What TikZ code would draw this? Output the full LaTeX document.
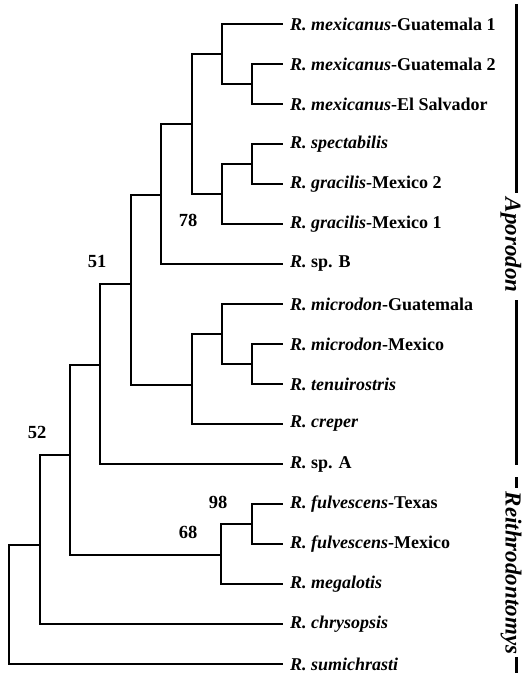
\documentclass[tikz,border=0pt]{standalone}
\usepackage{fontspec}
\setmainfont{Liberation Serif}
\usetikzlibrary{positioning}
\tikzstyle{taxon}=[
	anchor=west,
	inner xsep=8pt,
	inner ysep=2pt,
	font=\fontsize{18}{21}\selectfont\bfseries
]
\tikzstyle{branch}=[
	line width=1.25pt,
	line cap=rect
]
\tikzstyle{support}=[
	font=\fontsize{18.5}{21}\selectfont\bfseries
]
\tikzstyle{clade}=[
	rotate=-90,
	inner xsep=3pt,
	inner ysep=0pt,
	font=\fontsize{23}{26}\selectfont\bfseries\itshape
]
\tikzstyle{cladebar}=[
	line width=3pt
]
\newcommand{\species}[1]{\textit{R. #1}}

\begin{document}
\begin{tikzpicture}[x=1pt,y=-1pt]
\useasboundingbox (0,0) rectangle (524,675);
% leaves
\node [taxon] (mexGua1) at (282,24) {\species{mexicanus}-Guatemala 1};
\node [taxon] (mexGua2) at (282,64) {\species{mexicanus}-Guatemala 2};
\node [taxon] (mexSal) at (282,104) {\species{mexicanus}-El Salvador};
\node [taxon] (spect) at (282,144) {\species{spectabilis}};
\node [taxon] (graMex2) at (282,184) {\species{gracilis}-Mexico 2};
\node [taxon] (graMex1) at (282,224) {\species{gracilis}-Mexico 1};
\node [taxon] (spB) at (282,264) {\textit{R.} sp. B};
\node [taxon] (micGua) at (282,304) {\species{microdon}-Guatemala};
\node [taxon] (micMex) at (282,344) {\species{microdon}-Mexico};
\node [taxon] (tenui) at (282,384) {\species{tenuirostris}};
\node [taxon] (creper) at (282,424) {\species{creper}};
\node [taxon] (spA) at (282,464) {\textit{R.} sp. A};
\node [taxon] (fulTex) at (282,504) {\species{fulvescens}-Texas};
\node [taxon] (fulMex) at (282,544) {\species{fulvescens}-Mexico};
\node [taxon] (megal) at (282,584) {\species{megalotis}};
\node [taxon] (chrys) at (282,624) {\species{chrysopsis}};
\node [taxon] (sumi) at (282,664) {\species{sumichrasti}};
% internal nodes
\coordinate (mexA) at (252,84);
\coordinate (mexB) at (222,54);
\coordinate (graA) at (252,164);
\coordinate (graB) at (222,194);
\coordinate (mexGra) at (192,124);
\coordinate (withB) at (161,195);
\coordinate (micA) at (252,364);
\coordinate (micB) at (222,334);
\coordinate (micC) at (192,385);
\coordinate (apoA) at (131,284);
\coordinate (apoB) at (100,365);
\coordinate (fulA) at (252,524);
\coordinate (fulB) at (221,555);
\coordinate (reiA) at (70,455);
\coordinate (reiB) at (40,545);
\coordinate (root) at (9,604);
% branches
\draw [branch] (mexA) |- (mexGua2.west);
\draw [branch] (mexA) |- (mexSal.west);
\draw [branch] (mexB) |- (mexGua1.west);
\draw [branch] (mexB) |- (mexA);
\draw [branch] (graA) |- (spect.west);
\draw [branch] (graA) |- (graMex2.west);
\draw [branch] (graB) |- (graA);
\draw [branch] (graB) |- (graMex1.west);
\draw [branch] (mexGra) |- (mexB);
\draw [branch] (mexGra) |- (graB);
\draw [branch] (withB) |- (mexGra);
\draw [branch] (withB) |- (spB.west);
\draw [branch] (micA) |- (micMex.west);
\draw [branch] (micA) |- (tenui.west);
\draw [branch] (micB) |- (micGua.west);
\draw [branch] (micB) |- (micA);
\draw [branch] (micC) |- (micB);
\draw [branch] (micC) |- (creper.west);
\draw [branch] (apoA) |- (withB);
\draw [branch] (apoA) |- (micC);
\draw [branch] (apoB) |- (apoA);
\draw [branch] (apoB) |- (spA.west);
\draw [branch] (fulA) |- (fulTex.west);
\draw [branch] (fulA) |- (fulMex.west);
\draw [branch] (fulB) |- (fulA);
\draw [branch] (fulB) |- (megal.west);
\draw [branch] (reiA) |- (apoB);
\draw [branch] (reiA) |- (fulB);
\draw [branch] (reiB) |- (reiA);
\draw [branch] (reiB) |- (chrys.west);
\draw [branch] (root) |- (reiB);
\draw [branch] (root) |- (sumi.west);
% bootstrap values
\node [support] (bs78) at (188,220) {78};
\node [support] (bs51) at (97,261) {51};
\node [support] (bs52) at (37,432) {52};
\node [support] (bs98) at (218,502) {98};
\node [support] (bs68) at (188,532) {68};
% clade bars
\node [clade] (aporodon) at (511,245) {Aporodon};
\coordinate (apoTop) at (516,4);
\coordinate (apoBot) at (516,465);
\draw [cladebar] (apoTop) -- ([yshift=2pt]apoTop |- aporodon.west);
\draw [cladebar] ([yshift=-5pt]apoBot |- aporodon.east) -- (apoBot);
\node [clade] (reithro) at (511,573) {Reithrodontomys};
\coordinate (reiTop) at (516,477);
\coordinate (reiBot) at (516,673);
\draw [cladebar] (reiTop) -- ([yshift=1pt]reiTop |- reithro.west);
\draw [cladebar] (reiBot |- reithro.east) -- (reiBot);
\end{tikzpicture}
\end{document}
